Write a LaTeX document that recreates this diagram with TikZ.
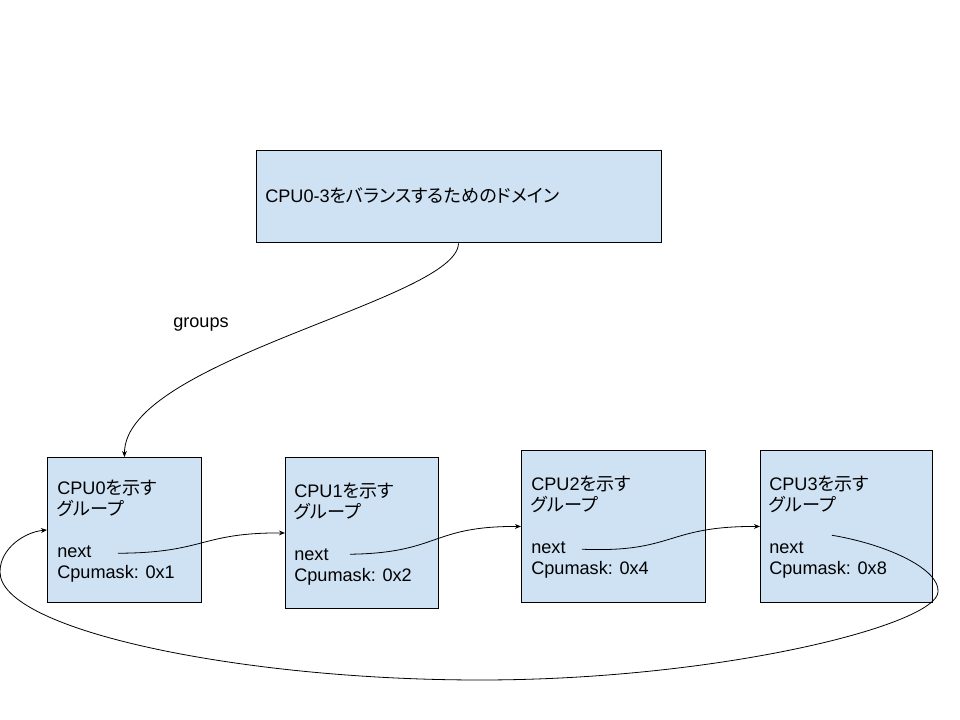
\documentclass[tikz,border=0pt]{standalone}
\usepackage{fontspec}
\setmainfont{Liberation Sans}
\newfontfamily\jp[RawFeature=+palt]{Noto Sans CJK JP}
\usetikzlibrary{arrows.meta,calc}
\definecolor{boxfill}{HTML}{CFE2F3}
\begin{document}
\begin{tikzpicture}[x=0.75pt,y=-0.75pt,
  box/.style={draw=black, fill=boxfill, line width=0.7pt, anchor=north west, inner sep=0pt},
  txt/.style={anchor=base west, inner sep=0pt, font=\fontsize{13.6pt}{16pt}\selectfont},
  conn/.style={draw=black, line width=0.6pt, -{Stealth[length=4.5pt,width=3.6pt]}}]
\useasboundingbox (0,0) rectangle (960,720);

% boxes
\node[box, minimum width=303.75pt, minimum height=69pt] (top) at (255.5,150.5) {};
\node[box, minimum width=115.5pt, minimum height=108.75pt] (b0) at (47,457) {};
\node[box, minimum width=114.75pt, minimum height=113.25pt] (b1) at (285,457) {};
\node[box, minimum width=138pt, minimum height=114pt] (b2) at (521,450) {};
\node[box, minimum width=129pt, minimum height=114pt] (b3) at (760,450) {};

% texts
\node[txt] (ttop) at (265,203) {CPU0-3{\jp をバランスするためのドメイン}};
\node[txt] (grp) at (173,327) {groups};

\node[txt] (h0) at (57,494) {CPU0{\jp を示す}};
\node[txt] (g0) at (57,515) {\jp グループ};
\node[txt] (n0) at (57,557) {next};
\node[txt] (m0) at (57,578) {Cpumask: 0x1};

\node[txt] (h1) at (294,497) {CPU1{\jp を示す}};
\node[txt] (g1) at (294,518) {\jp グループ};
\node[txt] (n1) at (294,560) {next};
\node[txt] (m1) at (294,581) {Cpumask: 0x2};

\node[txt] (h2) at (531,490) {CPU2{\jp を示す}};
\node[txt] (g2) at (531,511) {\jp グループ};
\node[txt] (n2) at (531,553) {next};
\node[txt] (m2) at (531,574) {Cpumask: 0x4};

\node[txt] (h3) at (769,490) {CPU3{\jp を示す}};
\node[txt] (g3) at (769,511) {\jp グループ};
\node[txt] (n3) at (769,553) {next};
\node[txt] (m3) at (769,574) {Cpumask: 0x8};

% connectors
\draw[conn] (top.south) .. controls (457.5,300) and (124,360) .. (b0.north);

\coordinate (s0) at ($(n0.east)+(26,2)$);
\coordinate (s1) at ($(n1.east)+(21,0)$);
\coordinate (s2) at ($(n2.east)+(16,2)$);
\coordinate (s3) at ($(n3.east)+(28,-12)$);

\draw[conn] (s0) .. controls (205,553) and (200,532.5) .. (b1.west);
\draw[conn] (s1) .. controls (440,553) and (430,526) .. (b2.west);
\draw[conn] (s2) .. controls (675,553) and (665,526) .. (b3.west);

\draw[conn] (s3) .. controls (890,545) and (940,570) .. (938,592)
  .. controls (936,625) and (720,680) .. (480,680)
  .. controls (240,680) and (0,630) .. (0,572)
  .. controls (0,548) and (25,532) .. (b0.west);
\end{tikzpicture}
\end{document}
